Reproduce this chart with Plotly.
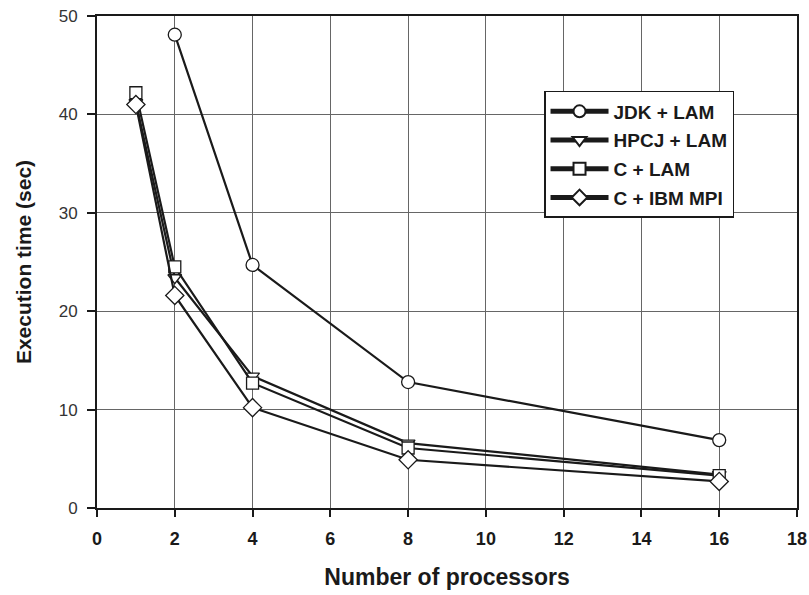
import plotly.graph_objects as go

series_names = ["JDK + LAM", "HPCJ + LAM", "C + LAM", "C + IBM MPI"]
x_jdk = [2, 4, 8, 16]
y_jdk = [48.1, 24.7, 12.8, 6.9]
x_procs = [1, 2, 4, 8, 16]
y_hpcj = [41.2, 23.4, 13.4, 6.6, 3.4]
y_clam = [42.2, 24.5, 12.7, 6.1, 3.3]
y_cibm = [41.0, 21.6, 10.2, 4.9, 2.7]
x_ticks = [0, 2, 4, 6, 8, 10, 12, 14, 16, 18]
y_ticks = [0, 10, 20, 30, 40, 50]

symbols = ["circle", "triangle-down", "square", "diamond"]
xs = [x_jdk, x_procs, x_procs, x_procs]
ys = [y_jdk, y_hpcj, y_clam, y_cibm]
sizes = [13, 12, 12, 14]

fig = go.Figure()
for name, xv, yv, sym, sz in zip(series_names, xs, ys, symbols, sizes):
    fig.add_trace(go.Scatter(
        x=xv, y=yv, name=name, mode="lines+markers", legendgroup=name,
        line=dict(color="#1a1a1a", width=2.2),
        marker=dict(symbol=sym, size=sz, color="white",
                    line=dict(color="#1a1a1a", width=1.3)),
    ))

font_main = "Liberation Sans, Arial, sans-serif"
fig.update_layout(
    width=809, height=595,
    margin=dict(l=97, r=12, t=16, b=87),
    paper_bgcolor="white", plot_bgcolor="white",
    font=dict(family=font_main, color="#1a1a1a"),
    showlegend=True,
    legend=dict(
        x=0.6386, y=0.8476, xanchor="left", yanchor="top",
        bgcolor="white", bordercolor="#1a1a1a", borderwidth=1.5,
        font=dict(family=font_main, size=19, color="#1a1a1a", weight="bold"),
        tracegroupgap=1, itemsizing="constant", itemwidth=58,
    ),
    xaxis=dict(
        range=[0, 18], tickvals=x_ticks, ticktext=[str(t) for t in x_ticks],
        showgrid=True, gridcolor="#666666", gridwidth=1,
        showline=True, linecolor="#1a1a1a", linewidth=2, mirror=True,
        ticks="outside", ticklen=7, tickcolor="#1a1a1a", tickwidth=1.5,
        tickfont=dict(size=18, weight="bold"), zeroline=False, automargin=False,
        ticklabelstandoff=6,
        title=dict(text="Number of processors", font=dict(size=23, weight="bold"), standoff=21),
    ),
    yaxis=dict(
        range=[0, 50], tickvals=y_ticks, ticktext=[str(t) for t in y_ticks],
        showgrid=True, gridcolor="#666666", gridwidth=1,
        showline=True, linecolor="#1a1a1a", linewidth=2, mirror=True,
        ticks="outside", ticklen=8, tickcolor="#1a1a1a", tickwidth=1.5,
        tickfont=dict(size=17, color="#333333"), zeroline=False, automargin=False,
        ticklabelstandoff=6,
        title=dict(text="Execution time (sec)", font=dict(size=21, weight="bold"), standoff=21),
    ),
)

fig.write_html("out.html", config={"displayModeBar": False},
               post_script="document.body.style.margin='0';")
